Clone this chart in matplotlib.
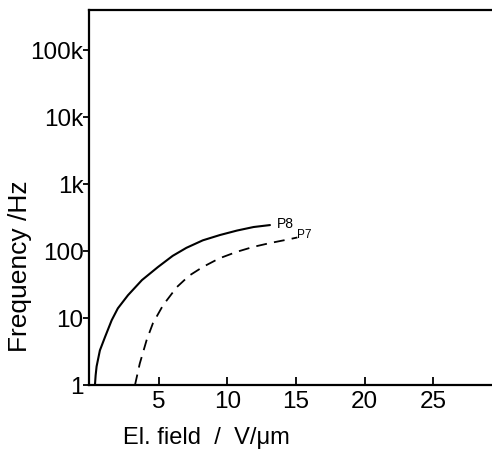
import numpy as np
import matplotlib
matplotlib.use("Agg")
import matplotlib.pyplot as plt

plt.rcParams['font.family'] = ['Liberation Sans', 'DejaVu Sans']

# P8 (solid)
p8_field = [0.33, 0.38, 0.45, 0.69, 1.06, 1.55, 2.0, 2.74, 3.76, 4.93, 6.0, 7.0, 8.2, 9.45, 10.7, 11.9, 13.1]
p8_freq = [1.0, 1.4, 1.9, 3.3, 5.2, 9.3, 14, 22, 37, 58, 85, 112, 145, 174, 203, 229, 245]

# P7 (dashed)
p7_field = [3.25, 3.6, 4.1, 4.56, 5.3, 6.3, 7.2, 8.2, 9.4, 10.7, 11.9, 13.1, 14.6, 15.1]
p7_freq = [1.0, 2.1, 4.7, 8.4, 15.6, 29, 43, 58, 78, 98, 116, 132, 152, 160]

ytick_vals = [1, 10, 100, 1e3, 1e4, 1e5]
ytick_labels = ['1', '10', '100', '1k', '10k', '100k']
xtick_vals = [5, 10, 15, 20, 25]

fig = plt.figure(figsize=(4.92, 4.51), dpi=100)
ax = fig.add_axes([0.181, 0.146, 0.819, 0.832])

ax.plot(p8_field, p8_freq, color='black', lw=1.5, solid_capstyle='round')
ax.plot(p7_field, p7_freq, color='black', lw=1.3, linestyle=(0, (6, 4)))

ax.text(13.6, 250, 'P8', fontsize=10, ha='left', va='center')
ax.text(15.1, 172, 'P7', fontsize=8.5, ha='left', va='center')

ax.set_yscale('log')
ax.set_ylim(1, 10 ** 5.6)
ax.set_xlim(-0.1, 29.3)
ax.set_yticks(ytick_vals)
ax.set_yticklabels(ytick_labels)
ax.minorticks_off()
ax.set_xticks(xtick_vals)

ax.tick_params(axis='y', direction='out', length=4, width=1.3, labelsize=17.5, pad=0)
ax.tick_params(axis='x', direction='in', length=6, width=1.3, labelsize=17.5, pad=4)

for s in ['left', 'bottom', 'top']:
    ax.spines[s].set_linewidth(1.6)
ax.spines['right'].set_visible(False)

ax.set_ylabel('Frequency /Hz', fontsize=19)
ax.yaxis.set_label_coords(-0.141, 0.316)
ax.set_xlabel('El. field  /  V/μm', fontsize=17)
ax.xaxis.set_label_coords(0.29, -0.112)

fig.savefig('out.png', dpi=100)
